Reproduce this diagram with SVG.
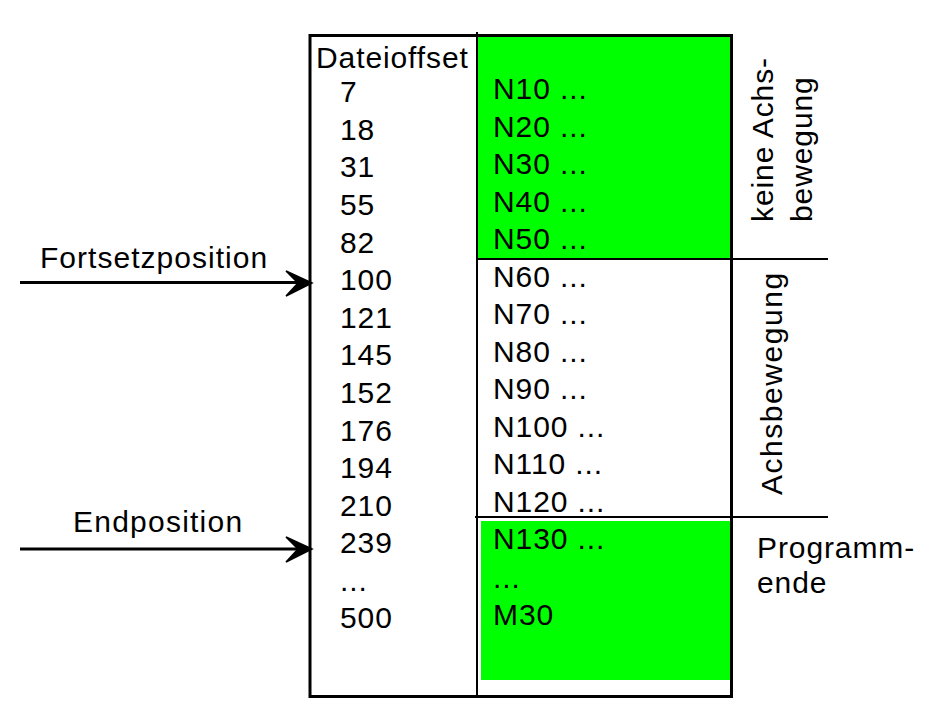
<svg xmlns="http://www.w3.org/2000/svg" width="942" height="718" viewBox="0 0 942 718">
<style>
text{font-family:"Liberation Sans",Arial,sans-serif;font-size:30px;fill:#000;letter-spacing:0.9px}
.thick{stroke:#000;stroke-width:3;fill:none}
.thin{stroke:#000;stroke-width:2;fill:none}
.green{fill:#00ff00}
</style>
<defs>
<path id="ah" d="M0,0 L-26,-12 L-14,0 L-26,13 Z" fill="#000" stroke="#000" stroke-width="1.5" stroke-linejoin="miter"/>
</defs>
<rect width="942" height="718" fill="#fff"/>
<g id="table">
<rect class="green" x="477" y="35" width="254" height="224"/>
<rect class="green" x="481" y="521" width="249" height="159"/>
<line class="thin" x1="477" y1="32" x2="477" y2="697"/>
<line class="thin" x1="476" y1="259" x2="828" y2="259"/>
<line class="thin" x1="475" y1="517" x2="828" y2="517"/>
<rect class="thick" x="310" y="35.5" width="421.5" height="661"/>
</g>
<g id="offsets">
<text x="316" y="68">Dateioffset</text>
<text x="340" y="102">7</text>
<text x="340" y="139.5">18</text>
<text x="340" y="177">31</text>
<text x="340" y="215">55</text>
<text x="340" y="252.5">82</text>
<text x="340" y="290">100</text>
<text x="340" y="327.5">121</text>
<text x="340" y="365">145</text>
<text x="340" y="403">152</text>
<text x="340" y="440.5">176</text>
<text x="340" y="478">194</text>
<text x="340" y="515.5">210</text>
<text x="340" y="553">239</text>
<text x="340" y="591">...</text>
<text x="340" y="628">500</text>
</g>
<g id="blocks">
<text x="493" y="99">N10 ...</text>
<text x="493" y="136.5">N20 ...</text>
<text x="493" y="174">N30 ...</text>
<text x="493" y="211.5">N40 ...</text>
<text x="493" y="249">N50 ...</text>
<text x="493" y="286.5">N60 ...</text>
<text x="493" y="324">N70 ...</text>
<text x="493" y="361.5">N80 ...</text>
<text x="493" y="399">N90 ...</text>
<text x="493" y="436.5">N100 ...</text>
<text x="493" y="474">N110 ...</text>
<text x="493" y="511.5">N120 ...</text>
<text x="493" y="549">N130 ...</text>
<text x="493" y="587.5">...</text>
<text x="493" y="625">M30</text>
</g>
<g id="section-labels">
<text transform="translate(773,222) rotate(-90)">keine Achs-</text>
<text transform="translate(812,222) rotate(-90)">bewegung</text>
<text transform="translate(782,495) rotate(-90)" textLength="223" lengthAdjust="spacing">Achsbewegung</text>
<text x="757" y="558">Programm-</text>
<text x="757" y="593">ende</text>
</g>
<g id="arrow-labels">
<text x="40" y="268" textLength="228" lengthAdjust="spacing">Fortsetzposition</text>
<text x="73" y="532" textLength="170" lengthAdjust="spacing">Endposition</text>
</g>
<g id="connectors">
<line class="thick" x1="20" y1="282.5" x2="300" y2="282.5"/>
<use href="#ah" x="312" y="283"/>
<line class="thick" x1="20" y1="549" x2="300" y2="549"/>
<use href="#ah" x="312" y="549"/>
</g>
</svg>
